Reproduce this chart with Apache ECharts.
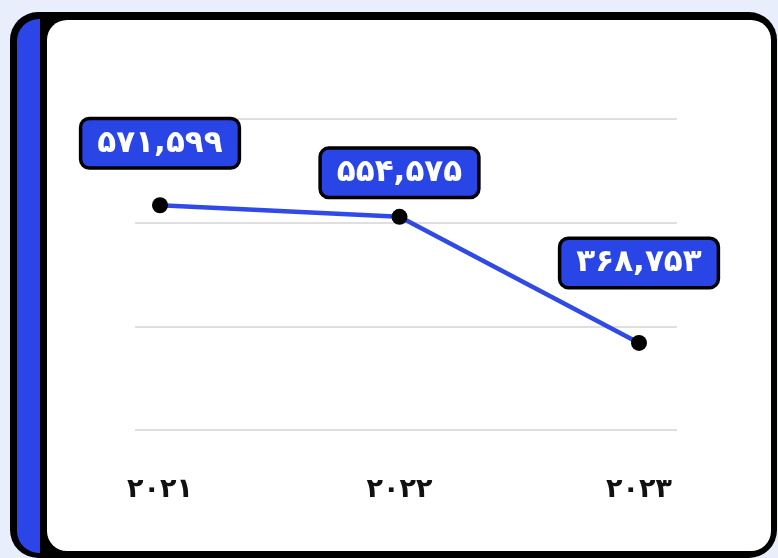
<!DOCTYPE html>
<html><head><meta charset="utf-8">
<script src="https://cdn.jsdelivr.net/npm/echarts@6/dist/echarts.min.js"></script>
<style>html,body{margin:0;padding:0;background:#e8eefb;}#c{width:778px;height:558px;}</style>
</head><body><div id="c"></div>
<script>
const years = ['2021', '2022', '2023'];
const sales = [571599, 554575, 368753];
const gridSteps = [0, 1, 2, 3];

const faDigits = '۰۱۲۳۴۵۶۷۸۹';
const fa = s => String(s).replace(/\d/g, d => faDigits[d]);

const BLUE = '#2f4ae6';
const FONT = 'DejaVu Sans';
const labelDist = [31, 13, 49];

const chart = echarts.init(document.getElementById('c'), null, {renderer: 'canvas'});
chart.setOption({
  backgroundColor: '#e8eefb',
  animation: false,
  graphic: [
    {type: 'rect', z: -10, shape: {x: 10, y: 12, width: 767, height: 546, r: 28}, style: {fill: '#000'}},
    {type: 'rect', z: -9, shape: {x: 17, y: 19, width: 23, height: 534, r: [22, 0, 0, 22]}, style: {fill: '#2b45e8'}},
    {type: 'rect', z: -8, shape: {x: 47, y: 20, width: 724, height: 531, r: 20}, style: {fill: '#fff'}}
  ],
  grid: [
    {left: 135, right: 101, top: 119, bottom: 128},
    {left: 160, right: 139, top: 119, bottom: 128}
  ],
  xAxis: [
    {gridIndex: 0, type: 'value', show: false, min: 0, max: 1},
    {gridIndex: 1, type: 'category', data: years.map(fa), boundaryGap: false,
     axisLine: {show: false}, axisTick: {show: false},
     axisLabel: {margin: 46, color: '#111', fontFamily: FONT, fontWeight: 'bold', fontSize: 27}}
  ],
  yAxis: [
    {gridIndex: 0, type: 'value', min: gridSteps[0], max: gridSteps[gridSteps.length - 1], interval: 1,
     axisLabel: {show: false}, axisLine: {show: false}, axisTick: {show: false},
     splitLine: {show: true, lineStyle: {color: '#d4d4d4', width: 1.5}}},
    {gridIndex: 1, type: 'value', min: 240500, max: 698660, show: false, splitLine: {show: false}}
  ],
  series: [{
    type: 'line',
    xAxisIndex: 1, yAxisIndex: 1,
    data: sales.map((v, i) => ({value: v, label: {distance: labelDist[i]}})),
    lineStyle: {color: BLUE, width: 4.5},
    symbol: 'circle', symbolSize: 16,
    itemStyle: {color: '#000', borderWidth: 0},
    label: {
      show: true, position: 'top',
      formatter: p => fa(p.value.toLocaleString('en-US')),
      color: '#fff', fontFamily: FONT, fontWeight: 'bold', fontSize: 31,
      backgroundColor: '#2a45e6', borderColor: '#000', borderWidth: 3.5, borderRadius: 7,
      padding: [8, 15, 7, 15]
    }
  }]
});
</script></body></html>
